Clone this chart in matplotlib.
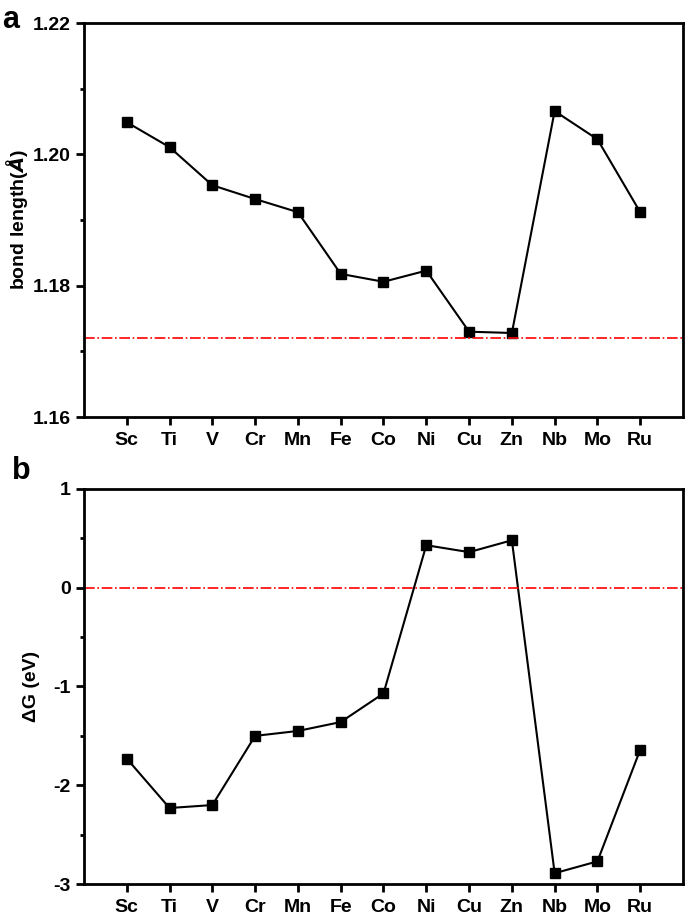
import numpy as np
import matplotlib
matplotlib.use('Agg')
import matplotlib.pyplot as plt

plt.rcParams['font.family'] = ['Liberation Sans', 'DejaVu Sans']
plt.rcParams['font.weight'] = 'bold'
plt.rcParams['mathtext.fontset'] = 'dejavusans'

metals = ['Sc', 'Ti', 'V', 'Cr', 'Mn', 'Fe', 'Co', 'Ni', 'Cu', 'Zn', 'Nb', 'Mo', 'Ru']
bond_len = [1.2049, 1.2011, 1.1953, 1.1932, 1.1912, 1.1818, 1.1806, 1.1823,
            1.1730, 1.1728, 1.2066, 1.2023, 1.1912]
delta_g = [-1.73, -2.23, -2.20, -1.50, -1.45, -1.36, -1.07, 0.43, 0.36, 0.48,
           -2.89, -2.77, -1.64]
ref_bond = 1.172   # red dash-dot reference
ref_g = 0.0

fig = plt.figure(figsize=(6.85, 9.19), dpi=100)
ax1 = fig.add_axes([0.1226, 0.5462, 0.8745, 0.4287])
ax2 = fig.add_axes([0.1226, 0.0380, 0.8745, 0.4300])

x = np.arange(len(metals))

def style(ax):
    for s in ax.spines.values():
        s.set_linewidth(2)
    ax.set_xlim(-1, 13)
    ax.set_xticks(x)
    ax.set_xticklabels(metals, fontsize=14, fontweight='bold')
    ax.tick_params(axis='both', direction='out', width=2, length=6, labelsize=14)
    ax.tick_params(axis='y', which='minor', direction='out', width=2, length=3)
    ax.tick_params(axis='x', pad=5)

ax1.plot(x, bond_len, color='black', lw=1.5, marker='s', ms=7)
ax1.axhline(ref_bond, color='red', ls='-.', lw=1.2)
ax1.set_ylim(1.16, 1.22)
ax1.set_yticks([1.16, 1.18, 1.20, 1.22])
ax1.set_yticks([1.17, 1.19, 1.21], minor=True)
ax1.set_ylabel(r'bond length($\AA$)', fontsize=14, fontweight='bold', labelpad=2)
style(ax1)
ax1.set_yticklabels(['1.16', '1.18', '1.20', '1.22'], fontweight='bold')

ax2.plot(x, delta_g, color='black', lw=1.5, marker='s', ms=7)
ax2.axhline(ref_g, color='red', ls='-.', lw=1.2)
ax2.set_ylim(-3, 1)
ax2.set_yticks([-3, -2, -1, 0, 1])
ax2.set_yticks([-2.5, -1.5, -0.5, 0.5], minor=True)
ax2.set_ylabel('ΔG (eV)', fontsize=14, fontweight='bold', labelpad=10)
style(ax2)
ax2.set_yticklabels(['-3', '-2', '-1', '0', '1'], fontweight='bold')

fig.text(0.003, 0.978, 'a', fontsize=22, fontweight='bold', va='center')
fig.text(0.018, 0.488, 'b', fontsize=22, fontweight='bold', va='center')

fig.savefig('out.png', dpi=100)
